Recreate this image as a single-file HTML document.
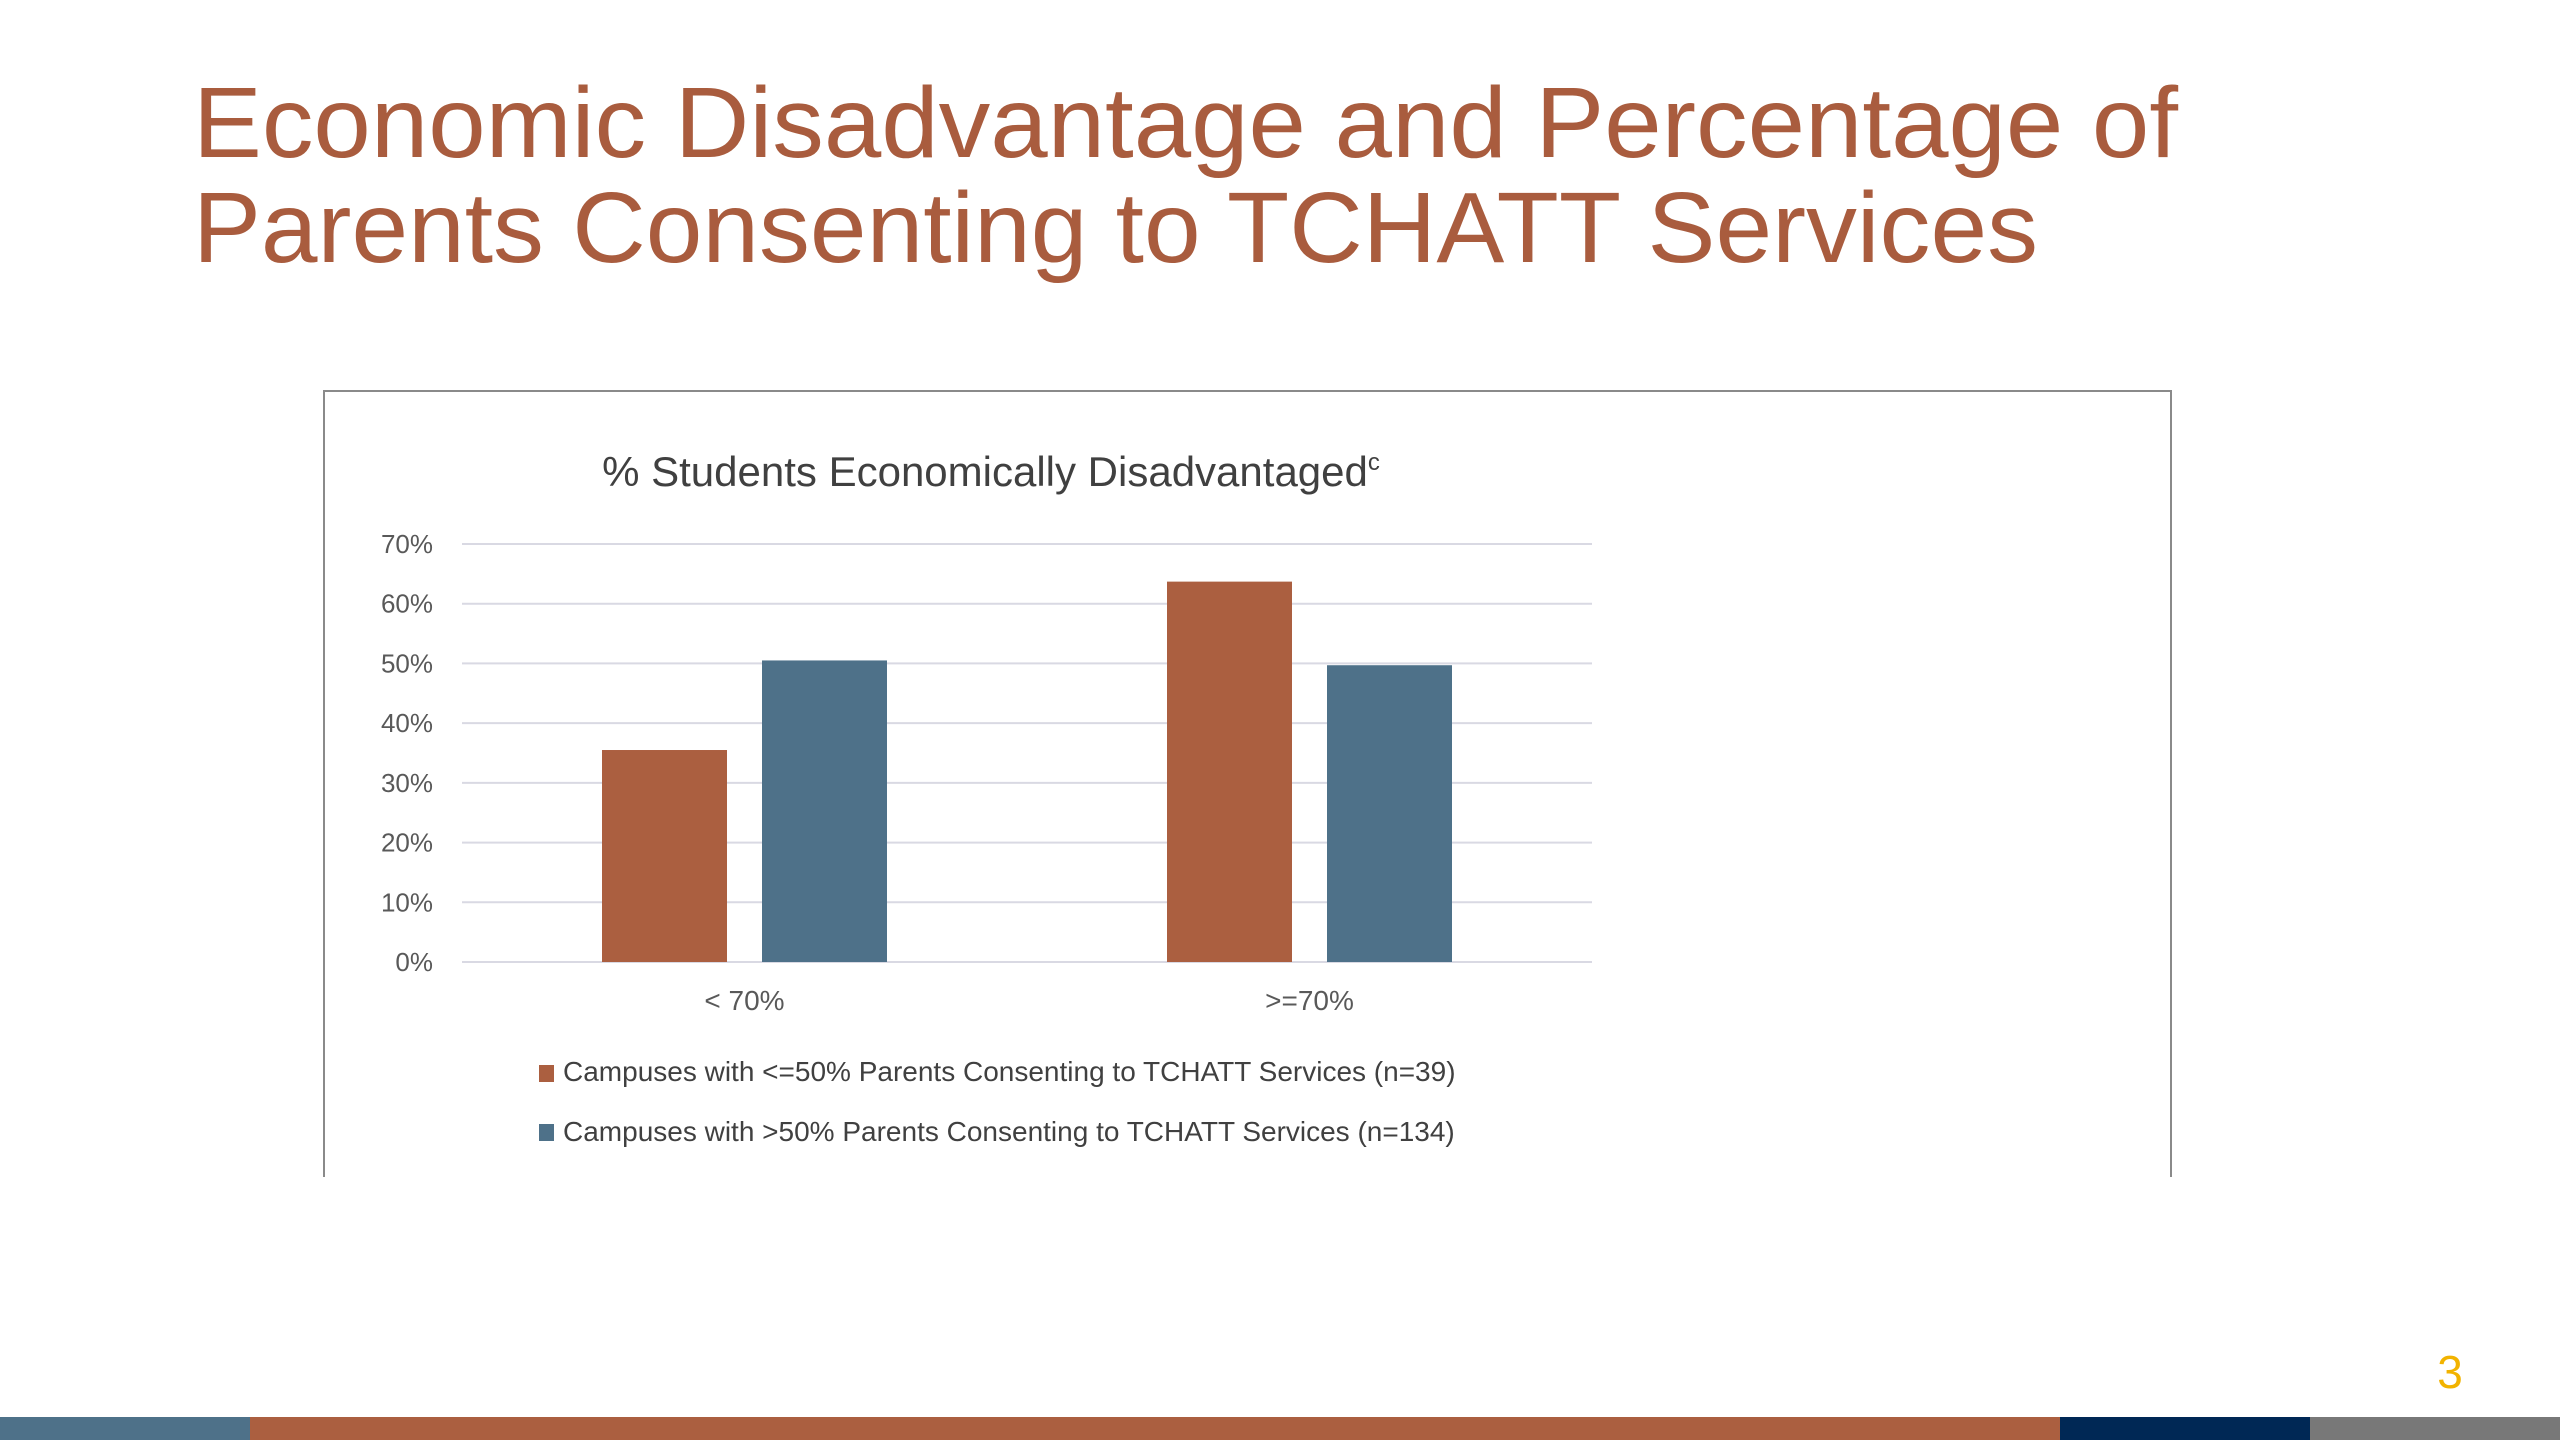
<!DOCTYPE html>
<html><head><meta charset="utf-8"><style>
html,body{margin:0;padding:0;background:#fff;}
svg{display:block;}
text{font-family:"Liberation Sans",sans-serif;}
</style></head><body>
<svg id="slide" width="2560" height="1440" viewBox="0 0 2560 1440">
<g fill="#a95c3e" font-size="100">
<text x="193" y="157" textLength="1985" lengthAdjust="spacingAndGlyphs">Economic Disadvantage and Percentage of</text>
<text x="193" y="262" textLength="1845" lengthAdjust="spacingAndGlyphs">Parents Consenting to TCHATT Services</text>
</g>
<path d="M324 1177 V391 H2171 V1177" fill="none" stroke="#8a8a8a" stroke-width="2"/>
<text x="991" y="486" text-anchor="middle" font-size="42" fill="#404040">% Students Economically Disadvantaged<tspan font-size="24" dy="-16">c</tspan></text>
<g id="grid"></g>
<g id="yticks"></g>
<g id="bars"></g>
<g id="xticks"></g>
<g font-size="28" fill="#404040">
<g>
<rect x="539" y="1065" width="15" height="17" fill="#ab5f40"/>
<text x="563" y="1081">Campuses with &lt;=50% Parents Consenting to TCHATT Services (n=39)</text>
</g>
<g>
<rect x="539" y="1124" width="15" height="17" fill="#4e7189"/>
<text x="563" y="1141">Campuses with &gt;50% Parents Consenting to TCHATT Services (n=134)</text>
</g>
</g>
<text x="2450" y="1388" text-anchor="middle" font-size="46" fill="#f2b300">3</text>
<g>
<rect x="0" y="1417" width="250" height="23" fill="#4e7189"/>
<rect x="250" y="1417" width="1810" height="23" fill="#ab5f40"/>
<rect x="2060" y="1417" width="250" height="23" fill="#002855"/>
<rect x="2310" y="1417" width="250" height="23" fill="#787878"/>
</g>
</svg>
<script>
const categories = ["< 70%", ">=70%"];
const seriesLe50 = [35.5, 63.7];
const seriesGt50 = [50.5, 49.7];
const yTicks = [0, 10, 20, 30, 40, 50, 60, 70];
const yTickLabels = ["0%", "10%", "20%", "30%", "40%", "50%", "60%", "70%"];

const NS = "http://www.w3.org/2000/svg";
const plotL = 462, plotR = 1592, plotTop = 544, plotBottom = 962, yMax = 70;
function yScale(v){ return plotBottom - (v / yMax) * (plotBottom - plotTop); }
const band = (plotR - plotL) / categories.length;
function xCenter(i){ return plotL + band * (i + 0.5); }
const barW = 125, barOff = 80;
function mk(tag, attrs){ const e = document.createElementNS(NS, tag); for (const k in attrs) e.setAttribute(k, attrs[k]); return e; }

const grid = document.getElementById('grid');
const yt = document.getElementById('yticks');
yTicks.forEach((t, i) => {
  const y = yScale(t);
  const ln = mk('line', {x1: plotL, x2: plotR, y1: y, y2: y, stroke: '#d9d9e3', 'stroke-width': 2});
  
  
  grid.appendChild(ln);
  const tx = mk('text', {x: 433, y: y + 9, 'text-anchor': 'end', 'font-size': 26, fill: '#595959'});
  tx.textContent = yTickLabels[i];
  
  
  yt.appendChild(tx);
});

const bars = document.getElementById('bars');
const xt = document.getElementById('xticks');
categories.forEach((c, i) => {
  const cx = xCenter(i);
  const y1 = yScale(seriesLe50[i]);
  const r1 = mk('rect', {x: cx - barOff - barW / 2, y: y1, width: barW, height: plotBottom - y1, fill: '#ab5f40'});
  
  
  bars.appendChild(r1);
  const y2 = yScale(seriesGt50[i]);
  const r2 = mk('rect', {x: cx + barOff - barW / 2, y: y2, width: barW, height: plotBottom - y2, fill: '#4e7189'});
  
  
  bars.appendChild(r2);
  const tx = mk('text', {x: cx, y: 1010, 'text-anchor': 'middle', 'font-size': 28, fill: '#595959'});
  tx.textContent = c;
  
  
  xt.appendChild(tx);
});
</script>
</body></html>
